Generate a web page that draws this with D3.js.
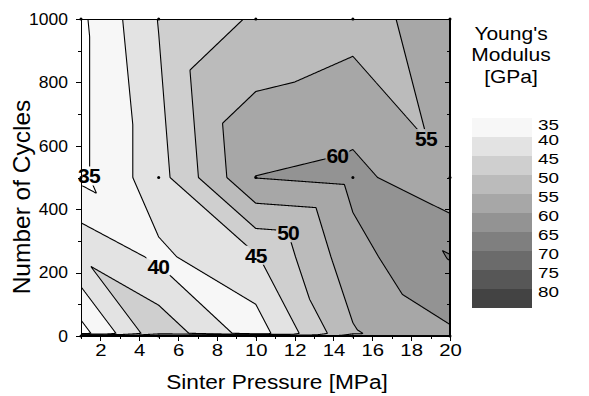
<!DOCTYPE html>
<html>
<head>
<meta charset="utf-8">
<script src="https://cdn.jsdelivr.net/npm/d3@7"></script>
<style>
  body { margin: 0; background: #fff; }
  text { font-family: Arial, "Liberation Sans", sans-serif; fill: #000; }
</style>
</head>
<body>
<svg id="chart" width="589" height="396"></svg>
<script>
// grid of the contour data
const pressures = [1, 5, 10, 15, 20];          // MPa
const cycles = [0, 8, 250, 500, 1000];         // number of cycles
// Young's modulus [GPa], one row per cycle count, one value per pressure
const modulus = [
  [58, 58, 58, 58, 59.3],
  [33, 48.5, 37.3, 54.5, 59.3],
  [44.5, 39, 44.4, 58.1, 65.3],
  [34, 43, 60.1, 61.5, 55.6],
  [34, 45.2, 50.7, 53, 57.5]
];
// how each grid cell is split into two triangles ("\\" = top-left to bottom-right)
const splits = [
  ["\\", "\\", "\\", "\\"],
  ["\\", "\\", "\\", "/"],
  ["\\", "\\", "/", "\\"],
  ["\\", "\\", "\\", "\\"]
];
const measuredCycles = [0, 500, 1000];
const levels = [35, 40, 45, 50, 55, 60, 65, 70, 75, 80];
const levelColors = ["#f7f7f7", "#e3e3e3", "#cfcfcf", "#bbbbbb", "#a7a7a7",
                     "#939393", "#7f7f7f", "#6b6b6b", "#575757", "#434343"];
const xTicks = [2, 4, 6, 8, 10, 12, 14, 16, 18, 20];
const xMinor = [1, 3, 5, 7, 9, 11, 13, 15, 17, 19];
const yTicks = [0, 200, 400, 600, 800, 1000];
const yMinor = [100, 300, 500, 700, 900];
const contourLabels = [
  {level: 35, p: 1.41, c: 505},
  {level: 40, p: 4.98, c: 221},
  {level: 45, p: 10.0, c: 255},
  {level: 50, p: 11.66, c: 326},
  {level: 55, p: 18.76, c: 623},
  {level: 60, p: 14.2, c: 571}
];

const svg = d3.select("#chart");
const pL = 81, pR = 450, pT = 19, pB = 336;
const sx = 1.27; // tick labels are drawn wider than tall in the original

const x = d3.scaleLinear().domain([1, 20]).range([pL, pR]);
const y = d3.scaleLinear().domain([0, 1000]).range([pB, pT]);

// linear interpolation on the triangles of each cell
function surface(p, c) {
  const i = Math.max(0, Math.min(pressures.length - 2, d3.bisectRight(pressures, p) - 1));
  const j = Math.max(0, Math.min(cycles.length - 2, d3.bisectRight(cycles, c) - 1));
  const u = (p - pressures[i]) / (pressures[i + 1] - pressures[i]);
  const v = (c - cycles[j]) / (cycles[j + 1] - cycles[j]);
  const z00 = modulus[j][i], z10 = modulus[j][i + 1];
  const z01 = modulus[j + 1][i], z11 = modulus[j + 1][i + 1];
  if (splits[j][i] === "\\") {
    if (u + v < 1) return z00 + u * (z10 - z00) + v * (z01 - z00);
    return z11 + (1 - u) * (z01 - z11) + (1 - v) * (z10 - z11);
  }
  if (v >= u) return z00 + v * (z01 - z00) + u * (z11 - z01);
  return z00 + u * (z10 - z00) + v * (z11 - z10);
}

const ss = 2;
const nx = Math.round((pR - pL) * ss), ny = Math.round((pB - pT) * ss);
const grid = new Float64Array(nx * ny);
for (let r = 0; r < ny; r++) {
  const c = y.invert(pT + (r + 0.5) / ss);
  for (let k = 0; k < nx; k++) {
    grid[r * nx + k] = surface(x.invert(pL + (k + 0.5) / ss), c);
  }
}
const bands = d3.contours().size([nx, ny]).thresholds(levels)(grid);
const path = d3.geoPath(d3.geoTransform({
  point(px, py) { this.stream.point(pL + px / ss, pT + py / ss); }
}));

svg.append("clipPath").attr("id", "plotClip")
  .append("rect").attr("x", pL).attr("y", pT)
  .attr("width", pR - pL).attr("height", pB - pT);

const plot = svg.append("g").attr("clip-path", "url(#plotClip)");
plot.append("rect").attr("x", pL).attr("y", pT)
  .attr("width", pR - pL).attr("height", pB - pT).attr("fill", "#fff");

plot.append("g").selectAll("path").data(bands).join("path")
  .attr("d", path)
  .attr("fill", (d, i) => levelColors[i]);

// contour lines are cut where the labels sit
const mask = svg.append("mask").attr("id", "labelMask")
  .attr("maskUnits", "userSpaceOnUse")
  .attr("x", 0).attr("y", 0).attr("width", 589).attr("height", 396);
mask.append("rect").attr("x", 0).attr("y", 0).attr("width", 589).attr("height", 396).attr("fill", "#fff");

plot.append("g").attr("mask", "url(#labelMask)")
  .selectAll("path").data(bands).join("path")
  .attr("d", path)
  .attr("fill", "none")
  .attr("stroke", "#000")
  .attr("stroke-width", 1.1)
  .attr("stroke-linejoin", "round");

// data points
const dots = [];
measuredCycles.forEach(c => pressures.forEach(p => dots.push({p, c})));
svg.append("g").selectAll("circle").data(dots).join("circle")
  .attr("cx", d => x(d.p)).attr("cy", d => y(d.c))
  .attr("r", 1.5).attr("fill", "#000");

// frame
svg.append("rect").attr("x", pL).attr("y", pT)
  .attr("width", pR - pL).attr("height", pB - pT)
  .attr("fill", "none").attr("stroke", "#000").attr("stroke-width", 1)
  .attr("shape-rendering", "crispEdges");

// axes
function styleAxis(g) {
  g.select(".domain").remove();
  g.selectAll("line").attr("stroke", "#000").attr("shape-rendering", "crispEdges");
}

const xAxis = svg.append("g").attr("transform", `translate(0,${pB})`)
  .call(d3.axisBottom(x).tickValues(xTicks).tickSize(5).tickPadding(4).tickSizeOuter(0));
styleAxis(xAxis);
xAxis.selectAll("text").attr("font-size", 16).attr("transform", `scale(${sx},1)`);
svg.append("g").attr("transform", `translate(0,${pB})`)
  .call(d3.axisBottom(x).tickValues(xMinor).tickSize(3).tickFormat("").tickSizeOuter(0))
  .call(styleAxis);

const yAxis = svg.append("g").attr("transform", `translate(${pL},0)`)
  .call(d3.axisLeft(y).tickValues(yTicks).tickFormat(d3.format("d"))
    .tickSize(5).tickPadding(8).tickSizeOuter(0));
styleAxis(yAxis);
yAxis.selectAll("text").attr("font-size", 16.5).attr("transform", "scale(1.06,1)")
  .attr("x", -13 / 1.06);
svg.append("g").attr("transform", `translate(${pL},0)`)
  .call(d3.axisLeft(y).tickValues(yMinor).tickSize(3).tickFormat("").tickSizeOuter(0))
  .call(styleAxis);

// mirrored ticks on the right, pointing inwards
svg.append("g").attr("transform", `translate(${pR},0)`)
  .call(d3.axisLeft(y).tickValues(yTicks).tickSize(5).tickFormat("").tickSizeOuter(0))
  .call(styleAxis);
svg.append("g").attr("transform", `translate(${pR},0)`)
  .call(d3.axisLeft(y).tickValues(yMinor).tickSize(3).tickFormat("").tickSizeOuter(0))
  .call(styleAxis);

// axis titles
svg.append("text")
  .attr("transform", "translate(277,389) scale(1.08,1)")
  .attr("text-anchor", "middle").attr("font-size", 21)
  .text("Sinter Pressure [MPa]");
svg.append("text")
  .attr("transform", "translate(30,197) rotate(-90)")
  .attr("text-anchor", "middle").attr("font-size", 24.5)
  .text("Number of Cycles");

// contour labels
const labelG = svg.append("g");
contourLabels.forEach(d => {
  const t = labelG.append("text")
    .attr("x", x(d.p)).attr("y", y(d.c)).attr("dy", "0.36em")
    .attr("text-anchor", "middle")
    .attr("font-size", 21).attr("font-weight", "bold")
    .attr("letter-spacing", -0.8)
    .text(d.level);
  const b = t.node().getBBox();
  mask.append("rect").attr("x", b.x - 1).attr("y", b.y + 2)
    .attr("width", b.width + 2).attr("height", b.height - 4).attr("fill", "#000");
});

// legend
const legendY = d3.scaleLinear().domain([35, 85]).range([118.3, 308.3]);
const legend = svg.append("g");
["Young's", "Modulus", "[GPa]"].forEach((s, i) => {
  legend.append("text")
    .attr("transform", `translate(511,${39.5 + i * 21.5}) scale(1.2,1)`)
    .attr("text-anchor", "middle").attr("font-size", 17.5)
    .text(s);
});
legend.selectAll("rect").data(levels).join("rect")
  .attr("x", 472).attr("width", 60)
  .attr("y", d => legendY(d))
  .attr("height", d => legendY(d + 5) - legendY(d))
  .attr("fill", (d, i) => levelColors[i])
  .attr("shape-rendering", "crispEdges");
legend.selectAll("text.lab").data(levels).join("text")
  .attr("class", "lab")
  .attr("transform", d => `translate(538,${Math.max(legendY(d) + 2, 124.5)}) scale(1.3,1)`)
  .attr("dy", "0.36em")
  .attr("font-size", 14.5)
  .text(d => d);
</script>
</body>
</html>
